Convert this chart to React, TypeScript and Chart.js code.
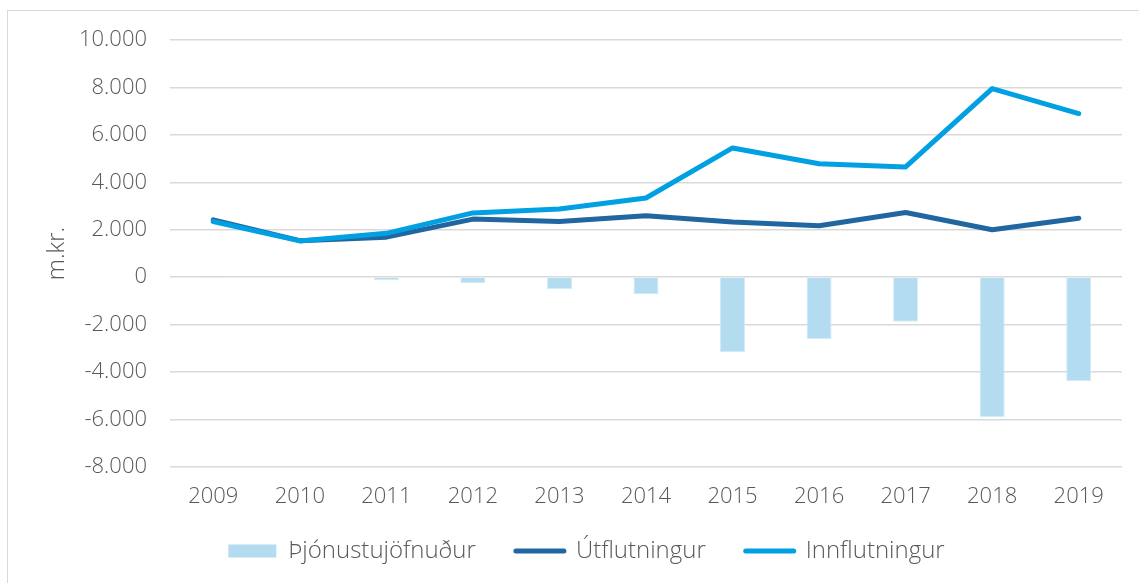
import React, { useEffect, useRef } from "react";
import { Chart, registerables } from "chart.js";

Chart.register(...registerables);

const categories = ["2009", "2010", "2011", "2012", "2013", "2014", "2015", "2016", "2017", "2018", "2019"];
const thjonustujofnudur = [60, 0, -120, -250, -510, -720, -3150, -2600, -1880, -5900, -4380];
const utflutningur = [2420, 1540, 1690, 2450, 2350, 2590, 2330, 2170, 2730, 2000, 2490];
const innflutningur = [2350, 1530, 1850, 2710, 2880, 3340, 5450, 4780, 4650, 7950, 6900];
const seriesNames = ["Þjónustujöfnuður", "Útflutningur", "Innflutningur"];
const yAxisTitle = "m.kr.";

const BAR_COLOR = "#b4dcf1";
const DARK = "#2066a1";
const LIGHT = "#00a0e3";
const TEXT = "#595959";
const GRID = "#d9d9d9";
const FONT = "'Open Sans', sans-serif";
const WEIGHT = 300;

const fmt = (v: number) =>
  (v < 0 ? "-" : "") + Math.abs(v).toString().replace(/\B(?=(\d{3})+(?!\d))/g, ".");

const legendHeightPlugin = {
  id: "legendHeight",
  beforeLayout(chart: any) {
    const lg = chart.legend;
    if (lg && !lg.__patched) {
      const orig = lg.fit.bind(lg);
      lg.fit = function () {
        orig();
        this.height = 84;
      };
      lg.__patched = true;
    }
  },
};

export default function App() {
  const ref = useRef<HTMLCanvasElement | null>(null);

  useEffect(() => {
    if (!ref.current) return;
    const chart = new Chart(ref.current, {
      type: "bar",
      data: {
        labels: categories,
        datasets: [
          {
            type: "bar",
            label: seriesNames[0],
            data: thjonustujofnudur,
            backgroundColor: BAR_COLOR,
            borderColor: "#d3ebf8",
            borderWidth: 1,
            barPercentage: 0.29,
            categoryPercentage: 1,
            order: 3,
          },
          {
            type: "line",
            label: seriesNames[1],
            data: utflutningur,
            borderColor: DARK,
            backgroundColor: DARK,
            borderWidth: 5,
            pointRadius: 0,
            tension: 0,
            borderCapStyle: "round",
            borderJoinStyle: "round",
            order: 2,
          },
          {
            type: "line",
            label: seriesNames[2],
            data: innflutningur,
            borderColor: LIGHT,
            backgroundColor: LIGHT,
            borderWidth: 5,
            pointRadius: 0,
            tension: 0,
            borderCapStyle: "round",
            borderJoinStyle: "round",
            order: 1,
          },
        ] as any,
      },
      plugins: [legendHeightPlugin],
      options: {
        animation: false,
        responsive: false,
        maintainAspectRatio: false,
        devicePixelRatio: 1,
        layout: { padding: { left: 43, right: 17, top: 29, bottom: 0 } },
        plugins: {
          tooltip: { enabled: false },
          legend: {
            position: "bottom",
            labels: {
              color: TEXT,
              font: { family: FONT, size: 24, weight: WEIGHT },
              usePointStyle: true,
              pointStyleWidth: 48,
              boxHeight: 13,
              padding: 40,
              generateLabels: (c: any) =>
                c.data.datasets.map((ds: any, i: number) =>
                  i === 0
                    ? {
                        text: ds.label,
                        fillStyle: BAR_COLOR,
                        strokeStyle: BAR_COLOR,
                        lineWidth: 0,
                        pointStyle: "rect",
                        datasetIndex: i,
                        hidden: false,
                        fontColor: TEXT,
                      }
                    : {
                        text: ds.label,
                        fillStyle: ds.borderColor,
                        strokeStyle: ds.borderColor,
                        lineWidth: 5,
                        lineCap: "round",
                        pointStyle: "line",
                        datasetIndex: i,
                        hidden: false,
                        fontColor: TEXT,
                      }
                ),
            },
          },
        },
        scales: {
          x: {
            grid: { display: false, drawTicks: false },
            border: { display: false },
            ticks: { color: TEXT, font: { family: FONT, size: 22, weight: WEIGHT }, padding: 17, maxRotation: 0 },
            afterFit: (s: any) => {
              s.height = 32;
              s._computeLabelArea = () => undefined;
            },
          },
          y: {
            min: -8000,
            max: 10000,
            grid: {
              color: GRID,
              lineWidth: 1.5,
              drawTicks: true,
              tickLength: 23,
              tickColor: "rgba(0,0,0,0)",
            },
            border: { display: false },
            ticks: {
              stepSize: 2000,
              color: TEXT,
              font: { family: FONT, size: 22, weight: WEIGHT },
              padding: 0,
              callback: (v: any) => fmt(Number(v)),
            },
            title: {
              display: true,
              text: yAxisTitle,
              color: TEXT,
              font: { family: FONT, size: 24, weight: WEIGHT },
              padding: { top: -8, bottom: 0 },
            },
            afterFit: (s: any) => {
              s.width = 119;
            },
          },
        },
      } as any,
    });
    return () => chart.destroy();
  }, []);

  return (
    <div style={{ position: "fixed", left: 0, top: 0, width: 1139, height: 583, overflow: "hidden", background: "#fff" }}>
      <div
        style={{
          position: "absolute",
          left: 7,
          top: 10,
          width: 1200,
          height: 620,
          border: "1px solid #d9d9d9",
          boxSizing: "border-box",
        }}
      />
      <canvas ref={ref} width={1131} height={572} style={{ position: "absolute", left: 8, top: 11, width: 1131, height: 572 }} />
    </div>
  );
}
